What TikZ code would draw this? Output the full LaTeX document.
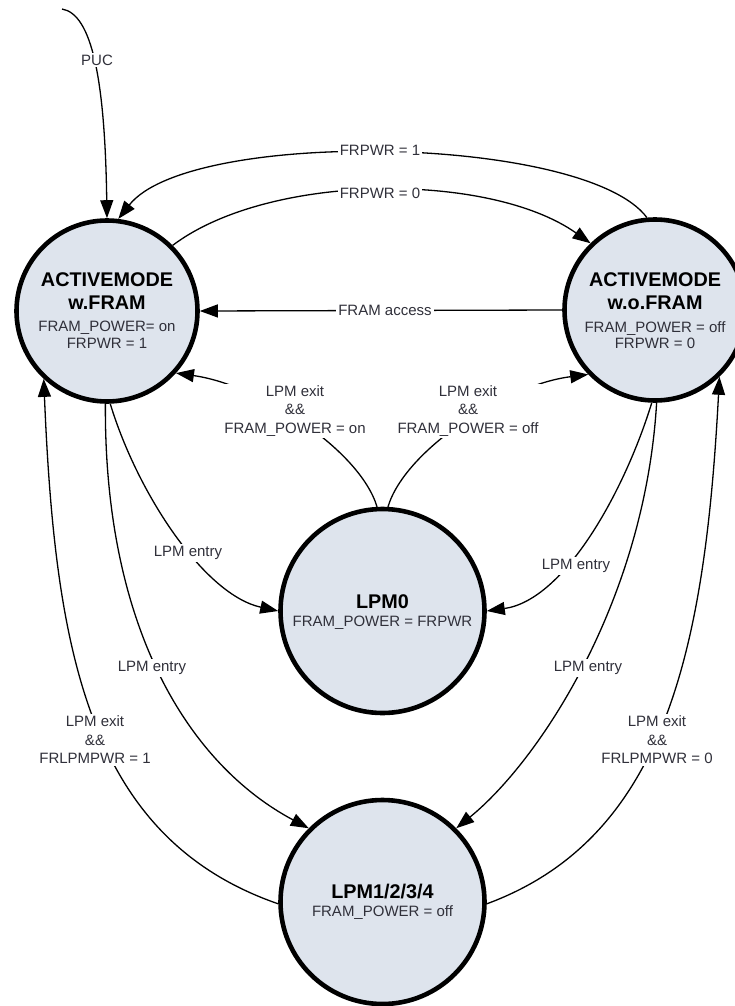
\documentclass[tikz,border=0pt]{standalone}
\usepackage{fontspec}
\setmainfont{Liberation Sans}
\usetikzlibrary{arrows.meta}
\definecolor{statefill}{RGB}{222,228,237}
\definecolor{labelgray}{RGB}{48,48,58}

\begin{document}
\begin{tikzpicture}[x=1pt,y=-1pt,
  state/.style={circle, draw=black, line width=4.6pt, fill=statefill, inner sep=0pt},
  smallstate/.style={state, minimum size=181pt},
  bigstate/.style={state, minimum size=204pt},
  titletext/.style={font=\bfseries\fontsize{19.8}{23}\selectfont, align=center, inner sep=0pt, text=black},
  subtext/.style={font=\fontsize{15}{16.5}\selectfont, align=center, inner sep=0pt, text=labelgray},
  trans/.style={line width=1.3pt, -{Triangle[length=18pt,width=13pt]}},
  edgelabel/.style={font=\fontsize{15}{18.5}\selectfont, align=center, fill=white, inner sep=2pt, text=labelgray},
]
\useasboundingbox (0,0) rectangle (734,1006);

% states
\node[smallstate] (A)  at (107,311)   {};
\node[smallstate] (B)  at (655,310)   {};
\node[bigstate]   (L0) at (382.5,611) {};
\node[bigstate]   (L1) at (382.5,902) {};

\node[titletext] (Atitle)  at ([yshift=19.5pt]A.center)  {ACTIVEMODE\\w.FRAM};
\node[subtext]   (Asub)    at ([yshift=-24pt]A.center)   {FRAM\_POWER= on\\FRPWR = 1};
\node[titletext] (Btitle)  at ([yshift=18.5pt]B.center)  {ACTIVEMODE\\w.o.FRAM};
\node[subtext]   (Bsub)    at ([yshift=-25pt]B.center)   {FRAM\_POWER = off\\FRPWR = 0};
\node[titletext] (L0title) at ([yshift=9pt]L0.center)    {LPM0};
\node[subtext]   (L0sub)   at ([yshift=-12pt]L0.center)  {FRAM\_POWER = FRPWR};
\node[titletext] (L1title) at ([yshift=10pt]L1.center)   {LPM1/2/3/4};
\node[subtext]   (L1sub)   at ([yshift=-11pt]L1.center)  {FRAM\_POWER = off};

% reset entry
\coordinate (puc) at (62,9);
\draw[trans] (puc) .. controls (92,14) and (105,80) .. (A.90);

% transitions between the active modes
\draw[trans] (B.95) .. controls (585,135) and (190,128) .. (A.83);
\draw[trans] (A.45) .. controls (270,172) and (490,172) .. (B.134);
\draw[trans] (B.180) -- (A.0);

% LPM0 exits
\draw[trans] (L0.93) .. controls (360,450) and (260,385) .. (A.-42);
\draw[trans] (L0.87) .. controls (405,450) and (505,385) .. (B.224);

% LPM0 entries
\draw[trans] (A.-88) .. controls (138,495) and (205,595) .. (L0.180);
\draw[trans] (B.-92) .. controls (625,490) and (565,600) .. (L0.0);

% LPM1/2/3/4 entries
\draw[trans] (A.-91) .. controls (104,630) and (190,765) .. (L1.135);
\draw[trans] (B.-89) .. controls (645,600) and (540,760) .. (L1.45);

% LPM1/2/3/4 exits
\draw[trans] (L1.181) .. controls (88,838) and (55,650) .. (A.227);
\draw[trans] (L1.-1) .. controls (665,838) and (705,650) .. (B.314);

% transition labels
\node[edgelabel] (lpuc)   at (97,60)   {PUC};
\node[edgelabel] (lpwr1)  at (380,150) {FRPWR = 1};
\node[edgelabel] (lpwr0)  at (380,193) {FRPWR = 0};
\node[edgelabel] (lacc)   at (385,310) {FRAM access};
\node[edgelabel] (lexon)  at (295,411) {LPM exit\\\&\&\\FRAM\_POWER = on};
\node[edgelabel] (lexoff) at (468,411) {LPM exit\\\&\&\\FRAM\_POWER = off};
\node[edgelabel] (lent1)  at (188,553) {LPM entry};
\node[edgelabel] (lent2)  at (576,566) {LPM entry};
\node[edgelabel] (lent3)  at (152,668) {LPM entry};
\node[edgelabel] (lent4)  at (588,668) {LPM entry};
\node[edgelabel] (lex1)   at (95,740)  {LPM exit\\\&\&\\FRLPMPWR = 1};
\node[edgelabel] (lex0)   at (657,740) {LPM exit\\\&\&\\FRLPMPWR = 0};
\end{tikzpicture}
\end{document}
